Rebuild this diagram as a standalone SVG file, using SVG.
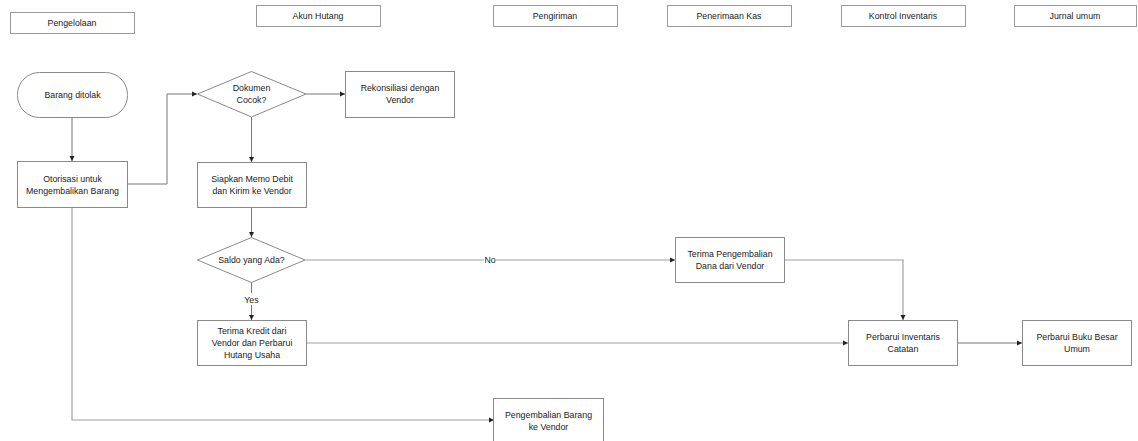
<svg xmlns="http://www.w3.org/2000/svg" width="1138" height="441" viewBox="0 0 1138 441">
  <defs>
    <style>
      .box { fill: #ffffff; stroke: #8a8a8a; stroke-width: 1; }
      .lane { fill: #ffffff; stroke: #9a9a9a; stroke-width: 1; }
      .t { font-family: "Liberation Sans", Arial, sans-serif; font-size: 8.8px; fill: #222; text-anchor: middle; }
      .c { fill: none; stroke: #777; stroke-width: 1; }
      .c2 { fill: none; stroke: #a0a0a0; stroke-width: 1.2; }
    </style>
    <marker id="arr" markerWidth="6" markerHeight="6" refX="5" refY="3" orient="auto" markerUnits="userSpaceOnUse">
      <path d="M0,0.5 L5,3 L0,5.5 Z" fill="#222"/>
    </marker>
  </defs>
  <rect width="1138" height="441" fill="#ffffff"/>

  <!-- lane headers -->
  <g id="lane-pengelolaan"><rect class="lane" x="10.5" y="12.5" width="124" height="21"/><text class="t" x="72" y="26">Pengelolaan</text></g>
  <g id="lane-akun-hutang"><rect class="lane" x="256.5" y="5.5" width="124" height="21"/><text class="t" x="318" y="19">Akun Hutang</text></g>
  <g id="lane-pengiriman"><rect class="lane" x="493.5" y="5.5" width="124" height="21"/><text class="t" x="555" y="19">Pengiriman</text></g>
  <g id="lane-penerimaan-kas"><rect class="lane" x="667.5" y="5.5" width="124" height="21"/><text class="t" x="729" y="19">Penerimaan Kas</text></g>
  <g id="lane-kontrol-inventaris"><rect class="lane" x="841.5" y="5.5" width="124" height="21"/><text class="t" x="903" y="19">Kontrol Inventaris</text></g>
  <g id="lane-jurnal-umum"><rect class="lane" x="1014.5" y="5.5" width="122" height="21"/><text class="t" x="1075" y="19">Jurnal umum</text></g>

  <!-- connectors -->
  <g id="connectors">
    <path class="c" d="M72,117 V161" marker-end="url(#arr)"/>
    <path class="c" d="M127,184 H167 V94 H197" marker-end="url(#arr)"/>
    <path class="c" d="M306,94 H345" marker-end="url(#arr)"/>
    <path class="c" d="M251.5,117 V162" marker-end="url(#arr)"/>
    <path class="c" d="M251.5,207 V237" marker-end="url(#arr)"/>
    <path class="c" d="M251.5,282 V320" marker-end="url(#arr)"/>
    <path class="c2" d="M305,260 H675" marker-end="url(#arr)"/>
    <path class="c2" d="M784,260 H903 V320" marker-end="url(#arr)"/>
    <path class="c2" d="M306,343 H848" marker-end="url(#arr)"/>
    <path class="c" d="M957,343 H1022" marker-end="url(#arr)"/>
    <path class="c2" d="M72,207 V420 H494" marker-end="url(#arr)"/>
    <rect x="244" y="293" width="15" height="12" fill="#ffffff"/>
    <text class="t" x="251.5" y="303">Yes</text>
    <rect x="484" y="254" width="12" height="12" fill="#ffffff"/>
    <text class="t" x="490" y="263">No</text>
  </g>

  <!-- process nodes -->
  <g id="barang-ditolak">
    <rect class="box" x="17.5" y="72.5" width="110" height="45" rx="22" ry="22"/>
    <text class="t" x="72.5" y="98">Barang ditolak</text>
  </g>
  <g id="otorisasi">
    <rect class="box" x="17.5" y="161.5" width="110" height="46"/>
    <text class="t" x="72.5" y="182">Otorisasi untuk</text>
    <text class="t" x="72.5" y="194">Mengembalikan Barang</text>
  </g>
  <g id="dokumen-cocok">
    <polygon class="box" points="197.5,94 251.5,71.5 306,94 251.5,117"/>
    <text class="t" x="251.5" y="91">Dokumen</text>
    <text class="t" x="251.5" y="103">Cocok?</text>
  </g>
  <g id="rekonsiliasi">
    <rect class="box" x="345.5" y="71.5" width="109" height="46"/>
    <text class="t" x="400" y="91">Rekonsiliasi dengan</text>
    <text class="t" x="400" y="103">Vendor</text>
  </g>
  <g id="siapkan-memo">
    <rect class="box" x="197.5" y="162.5" width="109" height="45"/>
    <text class="t" x="252" y="182">Siapkan Memo Debit</text>
    <text class="t" x="252" y="194">dan Kirim ke Vendor</text>
  </g>
  <g id="saldo">
    <polygon class="box" points="197.5,260 251.5,237.5 305,260 251.5,282.5"/>
    <text class="t" x="251.5" y="263">Saldo yang Ada?</text>
  </g>
  <g id="terima-kredit">
    <rect class="box" x="197.5" y="320.5" width="109" height="45"/>
    <text class="t" x="252" y="334">Terima Kredit dari</text>
    <text class="t" x="252" y="346">Vendor dan Perbarui</text>
    <text class="t" x="252" y="358">Hutang Usaha</text>
  </g>
  <g id="terima-pengembalian-dana">
    <rect class="box" x="675.5" y="237.5" width="109" height="45"/>
    <text class="t" x="730" y="257">Terima Pengembalian</text>
    <text class="t" x="730" y="269">Dana dari Vendor</text>
  </g>
  <g id="perbarui-inventaris">
    <rect class="box" x="848.5" y="320.5" width="109" height="45"/>
    <text class="t" x="903" y="340">Perbarui Inventaris</text>
    <text class="t" x="903" y="352">Catatan</text>
  </g>
  <g id="perbarui-buku-besar">
    <rect class="box" x="1022.5" y="320.5" width="109" height="45"/>
    <text class="t" x="1077" y="340">Perbarui Buku Besar</text>
    <text class="t" x="1077" y="352">Umum</text>
  </g>
  <g id="pengembalian-barang">
    <rect class="box" x="493.5" y="398.5" width="110" height="46"/>
    <text class="t" x="548.5" y="418">Pengembalian Barang</text>
    <text class="t" x="548.5" y="430">ke Vendor</text>
  </g>
</svg>
